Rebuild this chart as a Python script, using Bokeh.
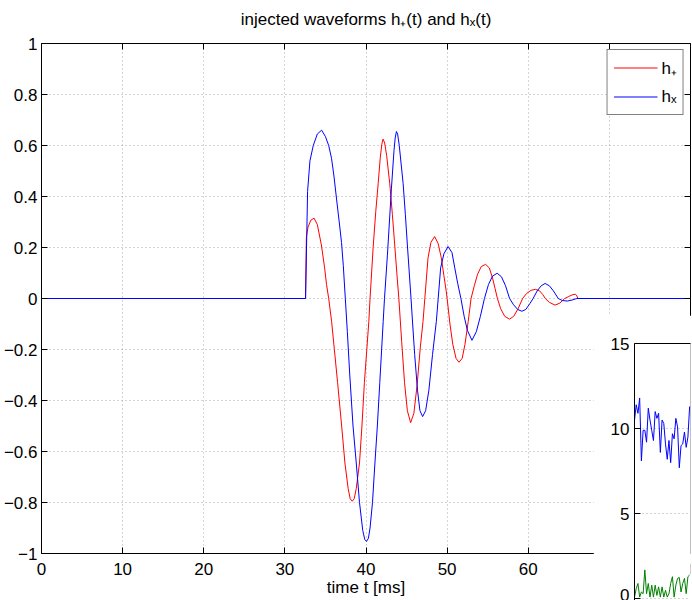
from bokeh.plotting import figure
from bokeh.models import Range1d, LinearAxis, FixedTicker, Legend, LegendItem
from bokeh.layouts import column
from bokeh.embed import file_html
from bokeh.resources import INLINE

FONT = "Liberation Sans"

# ---------------- data ----------------
title_text = "injected waveforms h\u208a(t) and h\u2093(t)"
x_label = "time t [ms]"
legend_labels = ["h\u208a", "h\u2093"]
x_ticks = [0, 10, 20, 30, 40, 50, 60, 70, 80]
y_ticks = [-1, -0.8, -0.6, -0.4, -0.2, 0, 0.2, 0.4, 0.6, 0.8, 1]
y_tick_labels = ["\u22121", "\u22120.8", "\u22120.6", "\u22120.4", "\u22120.2", "0",
                 "0.2", "0.4", "0.6", "0.8", "1"]

t_plus = [0, 32.55, 32.65, 32.85, 33.2, 33.6, 34.0, 34.5, 34.9, 35.14, 35.4, 35.76, 36.1,
          36.5, 37.0, 37.4, 37.8, 38.05, 38.3, 38.55, 38.8, 39.2, 39.5, 39.8, 40.1, 40.35,
          40.5, 40.88, 41.2, 41.5, 41.75, 41.95, 42.1, 42.3, 42.55, 42.93, 43.25, 43.54,
          43.85, 44.05, 44.4, 44.75, 45.1, 45.5, 45.9, 46.3, 46.7, 47.03, 47.25, 47.65,
          48.0, 48.46, 48.9, 49.28, 49.6, 49.9, 50.0, 50.35, 50.7, 51.1, 51.46, 51.85,
          52.2, 52.6, 52.95, 53.35, 53.75, 54.2, 54.74, 55.2, 55.6, 55.9, 56.2, 56.6,
          57.1, 57.69, 58.2, 58.75, 59.3, 59.8, 60.35, 60.88, 61.4, 61.8, 62.1, 62.6,
          63.3, 63.9, 64.5, 65.0, 65.4, 65.8, 66.0, 66.1, 80]
h_plus = [0, 0, 0.24, 0.28, 0.307, 0.315, 0.29, 0.21, 0.12, 0.054, 0, -0.09, -0.2,
          -0.33, -0.5, -0.645, -0.745, -0.785, -0.795, -0.785, -0.745, -0.645, -0.5, -0.33, -0.2, -0.09,
          0, 0.2, 0.34, 0.45, 0.55, 0.605, 0.625, 0.61, 0.56, 0.45, 0.33, 0.21,
          0.08, 0, -0.17, -0.33, -0.44, -0.487, -0.45, -0.34, -0.19, -0.09, 0, 0.16,
          0.22, 0.243, 0.215, 0.16, 0.09, 0.026, 0, -0.1, -0.18, -0.235, -0.25, -0.235,
          -0.18, -0.09, 0, 0.05, 0.095, 0.125, 0.134, 0.12, 0.08, 0.04, 0, -0.04,
          -0.07, -0.081, -0.07, -0.04, 0, 0.02, 0.032, 0.036, 0.03, 0.015, 0, -0.015,
          -0.026, -0.018, 0, 0.008, 0.014, 0.017, 0.01, 0, 0]

t_cross = [0, 32.55, 32.8, 33.09, 33.5, 34.0, 34.53, 35.0, 35.4, 35.75, 36.05, 36.37,
           36.7, 36.98, 37.2, 37.45, 37.7, 38.0, 38.4, 38.8, 39.2, 39.6, 39.85, 40.06,
           40.3, 40.5, 40.8, 41.1, 41.4, 41.7, 42.12, 42.28, 42.64, 43.13, 43.45, 43.6,
           43.75, 43.9, 44.1, 44.58, 44.85, 45.1, 45.55, 45.68, 46.0, 46.35, 46.65, 46.98,
           47.35, 47.75, 48.2, 48.67, 48.9, 49.2, 49.6, 50.11, 50.6, 50.94, 51.3, 51.7,
           52.1, 52.5, 53.06, 53.6, 54.1, 54.6, 55.1, 55.6, 56.17, 56.7, 57.2, 57.7,
           58.2, 58.7, 59.21, 59.7, 60.2, 60.6, 61.1, 61.6, 62.08, 62.6, 63.1, 63.7,
           64.2, 64.8, 65.4, 66.0, 80]
h_cross = [0, 0, 0.42, 0.54, 0.6, 0.645, 0.66, 0.635, 0.6, 0.55, 0.48, 0.39,
           0.3, 0.22, 0.13, 0, -0.13, -0.3, -0.5, -0.645, -0.8, -0.91, -0.945, -0.953,
           -0.94, -0.9, -0.8, -0.645, -0.5, -0.33, -0.09, 0, 0.17, 0.43, 0.58, 0.63,
           0.655, 0.645, 0.6, 0.45, 0.33, 0.21, 0, -0.065, -0.22, -0.36, -0.44, -0.463,
           -0.44, -0.36, -0.22, -0.09, 0, 0.12, 0.175, 0.204, 0.18, 0.12, 0.06, 0,
           -0.07, -0.125, -0.164, -0.13, -0.07, 0, 0.055, 0.088, 0.099, 0.085, 0.05, 0,
           -0.025, -0.043, -0.05, -0.043, -0.02, 0, 0.03, 0.05, 0.059, 0.05, 0.03, 0,
           -0.008, -0.01, -0.006, 0, 0]

inset_y_ticks = [0, 5, 10, 15]
inset_blue = [10.5, 11.4, 10.9, 11.8, 8.1, 9.9, 9.9, 9.2, 11.2, 10.5, 9.9, 9.3, 11.0,
              10.6, 10.9, 8.6, 10.5, 10.3, 9.1, 8.2, 9.3, 8.0, 9.7, 9.4, 10.6, 10.1,
              7.7, 9.0, 9.1, 9.8, 8.9, 9.5, 11.3]
inset_green = [0.1, 0.6, 0.9, 0.1, 0.4, 0.3, 1.7, 0.3, 0.9, 0.1, 0.8, 0.1, 0.8, 0.2,
               0.7, 0.1, 0.7, 0.1, 0.5, 0.1, 0.3, 0.9, 1.3, 0.1, 0.8, 1.2, 1.25, 0.4,
               0.9, 1.2, 0.3, 1.3, 1.4]

assert len(t_plus) == len(h_plus), (len(t_plus), len(h_plus))
assert len(t_cross) == len(h_cross), (len(t_cross), len(h_cross))

# ---------------- main figure ----------------
# The canvas is 10 px taller than the window and shifted up by 10 px, so the
# title can sit higher above the frame than Bokeh's title panel allows.
SHIFT = 10
FL = 39

p = figure(width=692, height=600 + SHIFT, x_range=Range1d(0, 80), y_range=Range1d(-1, 1),
           output_backend="svg", toolbar_location=None,
           min_border_left=FL, min_border_right=2, min_border_top=43 + SHIFT, min_border_bottom=47,
           background_fill_color="white", border_fill_color="white", outline_line_color=None)
p.styles = {"margin-top": f"-{SHIFT}px"}

p.title.text = title_text
p.title.align = "center"
p.title.text_font = FONT
p.title.text_font_size = "17px"
p.title.text_font_style = "normal"
p.title.text_color = "black"
p.title.standoff = 30


def style_axis(ax, labels=True, standoff=4):
    ax.major_tick_in = 6
    ax.major_tick_out = 0
    ax.minor_tick_line_color = None
    ax.axis_line_color = "black"
    ax.major_tick_line_color = "black"
    ax.major_label_text_font = FONT
    ax.major_label_standoff = standoff
    ax.major_label_text_font_size = "17px"
    ax.major_label_text_color = "black" if labels else None


p.xaxis.ticker = FixedTicker(ticks=x_ticks)
style_axis(p.xaxis[0], standoff=9)
p.xaxis.axis_label = x_label
p.xaxis.axis_label_text_font = FONT
p.xaxis.axis_label_text_font_size = "17px"
p.xaxis.axis_label_text_font_style = "normal"
p.xaxis.axis_label_text_color = "black"
p.xaxis.axis_label_standoff = 0

p.yaxis.ticker = FixedTicker(ticks=y_ticks)
p.yaxis.major_label_overrides = dict(zip(y_ticks, y_tick_labels))
style_axis(p.yaxis[0], standoff=4)

top_ax = LinearAxis(ticker=FixedTicker(ticks=x_ticks),
                    major_label_overrides={t: "" for t in x_ticks})
style_axis(top_ax, labels=False, standoff=0)
p.add_layout(top_ax, "above")
right_ax = LinearAxis(ticker=FixedTicker(ticks=y_ticks),
                      major_label_overrides={t: "" for t in y_ticks})
style_axis(right_ax, labels=False, standoff=0)
p.add_layout(right_ax, "right")

for g in (p.xgrid[0], p.ygrid[0]):
    g.grid_line_color = "#a8a8a8"
    g.grid_line_dash = "1 3"
    g.grid_line_width = 1

r_plus = p.line(t_plus, h_plus, line_color="#ff0000", line_width=1)
r_cross = p.line(t_cross, h_cross, line_color="#0000ff", line_width=1)

legend = Legend(items=[LegendItem(label=legend_labels[0], renderers=[r_plus]),
                       LegendItem(label=legend_labels[1], renderers=[r_cross])],
                location="top_right", margin=6,
                border_line_color="black", border_line_width=1,
                background_fill_color="white", background_fill_alpha=1.0,
                padding=6, spacing=6,
                glyph_width=44, glyph_height=23, label_height=23, label_standoff=4,
                label_width=0,
                label_text_font=FONT, label_text_font_size="17px", label_text_color="black")
p.add_layout(legend)

# ---------------- inset figure ----------------
inset = figure(width=99, height=285, x_range=Range1d(0, 32.5), y_range=Range1d(-0.1, 15),
               output_backend="svg", toolbar_location=None, x_axis_location=None,
               min_border_left=34, min_border_top=28, min_border_right=0, min_border_bottom=0,
               background_fill_color="white", border_fill_color="white", outline_line_color=None)
inset.yaxis.ticker = FixedTicker(ticks=inset_y_ticks)
style_axis(inset.yaxis[0], standoff=5)
inset_top = LinearAxis(ticker=FixedTicker(ticks=[]))
style_axis(inset_top, labels=False, standoff=0)
inset.add_layout(inset_top, "above")
inset.xgrid.visible = False
inset.ygrid.grid_line_color = "#a8a8a8"
inset.ygrid.grid_line_dash = "1 3"
idx = list(range(len(inset_blue)))
inset.line(idx, inset_blue, line_color="#0000ff", line_width=1)
inset.line(idx, inset_green, line_color="#008000", line_width=1)
inset.styles = {"position": "absolute", "left": "593px", "top": "315px"}

layout = column(p, inset)
open("out.html", "w").write(file_html(layout, INLINE, title="injected waveforms"))
